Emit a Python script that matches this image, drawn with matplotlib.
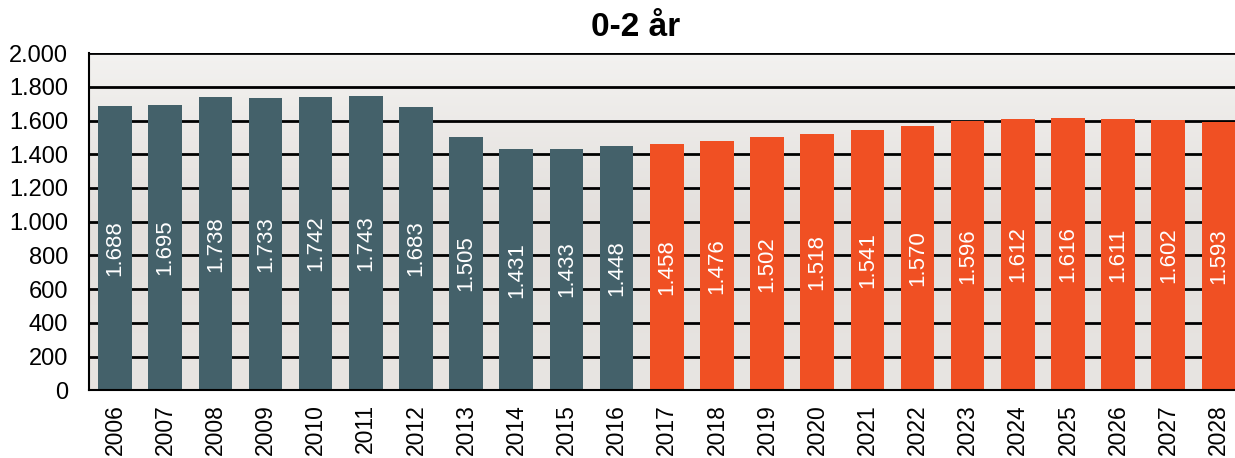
import numpy as np
import matplotlib
matplotlib.use("Agg")
import matplotlib.pyplot as plt
from matplotlib.colors import LinearSegmentedColormap

years = list(range(2006, 2029))
values = [1688, 1695, 1738, 1733, 1742, 1743, 1683, 1505, 1431, 1433, 1448,
          1458, 1476, 1502, 1518, 1541, 1570, 1596, 1612, 1616, 1611, 1602, 1593]
last_actual = 2016
yticks = [0, 200, 400, 600, 800, 1000, 1200, 1400, 1600, 1800, 2000]

SLATE = "#44616a"
ORANGE = "#f05023"

plt.rcParams['font.family'] = ['Liberation Sans', 'DejaVu Sans']


def dotted(n):
    # Danish thousand separator
    return f"{n:,}".replace(",", ".")


fig = plt.figure(figsize=(12.35, 4.58), dpi=100)
ax = fig.add_axes([0.072, 0.148, 0.928, 0.736])

x = np.arange(len(years))
colors = [SLATE if y <= last_actual else ORANGE for y in years]

# gradient background
grad = np.linspace(0, 1, 256).reshape(-1, 1)
bg = LinearSegmentedColormap.from_list("bg", ["#e8e5e2", "#e3dfdc", "#f3f2f0"])
ax.imshow(grad, cmap=bg, aspect='auto', extent=(-0.52, 22.33, 0, 2000),
          origin='lower', zorder=0)

for yt in yticks[1:]:
    ax.axhline(yt, color='black', lw=2, zorder=1)

ax.bar(x, values, width=0.67, color=colors, zorder=2)
for xi, v in zip(x, values):
    ax.text(xi, v / 2, dotted(v), rotation=90, color='white',
            ha='center', va='center', fontsize=16, zorder=3)

ax.set_xlim(-0.52, 22.33)
ax.set_ylim(0, 2000)
ax.set_yticks(yticks)
ax.set_yticklabels([dotted(t) for t in yticks], fontsize=17)
ax.set_xticks(x)
ax.set_xticklabels([str(y) for y in years], rotation=90, fontsize=16.5)
ax.tick_params(axis='y', length=0, pad=15)
ax.tick_params(axis='x', length=0, pad=10)

for side in ['top', 'right']:
    ax.spines[side].set_visible(False)
ax.spines['left'].set_linewidth(1.5)
ax.spines['bottom'].set_linewidth(1.5)

fig.text(636 / 1235, 1 - 27 / 458, "0-2 år", fontsize=24, fontweight='bold',
         ha='center', va='center')

fig.savefig("out.png", dpi=100)
